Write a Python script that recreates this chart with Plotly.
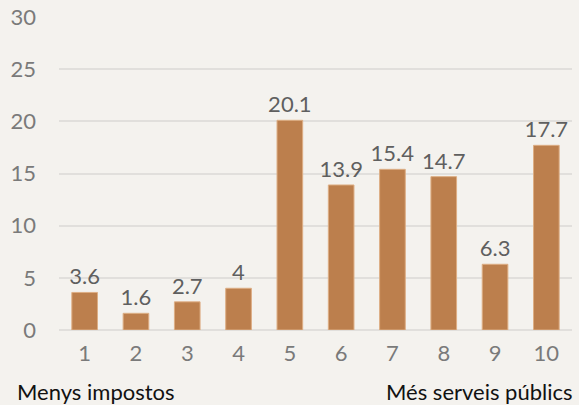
import plotly.graph_objects as go

categories = ["1", "2", "3", "4", "5", "6", "7", "8", "9", "10"]
values = [3.6, 1.6, 2.7, 4, 20.1, 13.9, 15.4, 14.7, 6.3, 17.7]
value_labels = ["3.6", "1.6", "2.7", "4", "20.1", "13.9", "15.4", "14.7", "6.3", "17.7"]
y_ticks = [0, 5, 10, 15, 20, 25, 30]
left_note = "Menys impostos"
right_note = "Més serveis públics"

FONT = "Lato"

fig = go.Figure(
    go.Bar(
        x=categories,
        y=values,
        text=value_labels,
        textposition="outside",
        constraintext="none",
        cliponaxis=False,
        textfont=dict(family=FONT, size=22, color="#5f5f5f"),
        marker=dict(color="#BC7F4D", line=dict(color="#DDAE84", width=1)),
        width=0.5,
    )
)

fig.update_layout(
    width=579,
    height=405,
    margin=dict(l=59, r=7, t=17, b=75, autoexpand=False),
    paper_bgcolor="#F4F2EE",
    plot_bgcolor="#F4F2EE",
    showlegend=False,
    font=dict(family=FONT, size=22, color="#7a7a7a"),
    xaxis=dict(
        type="category",
        showgrid=False,
        showline=False,
        zeroline=False,
        ticks="",
        ticklabelstandoff=8,
        tickfont=dict(family=FONT, size=22, color="#7a7a7a"),
    ),
    yaxis=dict(
        range=[0, 30],
        tickvals=y_ticks,
        showgrid=True,
        gridcolor="#E1DFDC",
        gridwidth=1.5,
        zeroline=True,
        zerolinecolor="#E1DFDC",
        zerolinewidth=1.5,
        showline=False,
        ticks="",
        ticklabelstandoff=22,
        tickfont=dict(family=FONT, size=22, color="#7a7a7a"),
    ),
    annotations=[
        dict(text=left_note, x=0, xref="paper", xshift=-44, y=0, yref="paper",
             yshift=-46, xanchor="left", yanchor="top", showarrow=False,
             font=dict(family=FONT, size=22, color="#111111")),
        dict(text=right_note, x=1, xref="paper", xshift=3, y=0, yref="paper",
             yshift=-46, xanchor="right", yanchor="top", showarrow=False,
             font=dict(family=FONT, size=22, color="#111111")),
    ],
)

fig.write_html(
    "out.html",
    config={"displayModeBar": False},
    post_script="document.body.style.margin='0';document.body.style.overflow='hidden';",
)
